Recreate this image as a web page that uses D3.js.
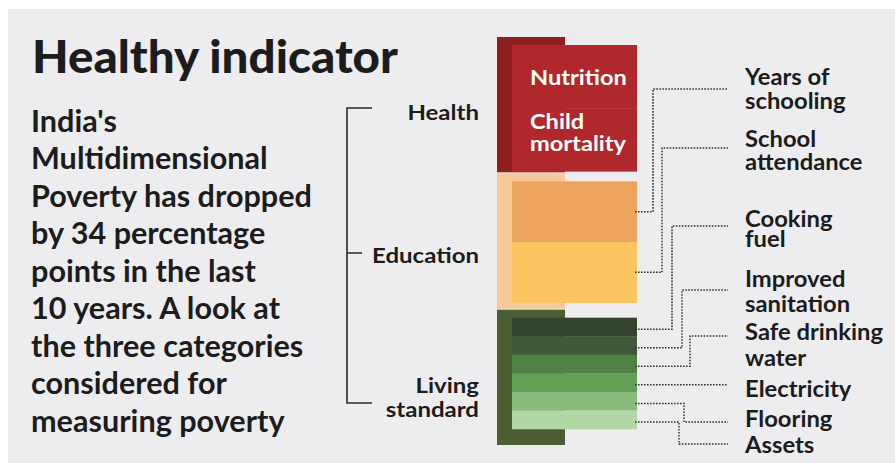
<!DOCTYPE html>
<html><head><meta charset="utf-8">
<script src="https://cdn.jsdelivr.net/npm/d3@7"></script>
<style>html,body{margin:0;padding:0;background:#fff;}svg{display:block;}</style>
</head><body>
<svg id="chart" width="895" height="463"></svg>
<script>
// ---------- data ----------
const title = "Healthy indicator";
const introLines = ["India's", "Multidimensional", "Poverty has dropped", "by 34 percentage",
  "points in the last", "10 years. A look at", "the three categories", "considered for", "measuring poverty"];
const categories = ["Health", "Education", "Living standard"];
const categoryLabels = [["Health"], ["Education"], ["Living", "standard"]];
const categoryWeights = [1, 1, 1];
const healthIndicators = ["Nutrition", "Child mortality"];
const educationIndicators = ["Years of schooling", "School attendance"];
const livingIndicators = ["Cooking fuel", "Improved sanitation", "Safe drinking water", "Electricity", "Flooring", "Assets"];
const indicatorLabelLines = [["Years of", "schooling"], ["School", "attendance"], ["Cooking", "fuel"],
  ["Improved", "sanitation"], ["Safe drinking", "water"], ["Electricity"], ["Flooring"], ["Assets"]];

// ---------- layout / style ----------
const W = 895, H = 463;
const svg = d3.select("#chart");
const font = "Lato, 'Open Sans', 'DejaVu Sans', sans-serif";
const ink = "#1c1c1c";
const backX0 = 497, backX1 = 565, frontX0 = 512, frontX1 = 637;
const backColor = {"Health": "#8e1e20", "Education": "#f7c899", "Living standard": "#4b5e34"};
const frontColor = {"Health": "#b0282b"};
const eduColors = ["#eda45e", "#fdc561"];
const livingColors = ["#34432f", "#40593a", "#4f8243", "#63a158", "#86bb7b", "#b3d7a5"];
const frontBottomInset = {"Health": 2, "Education": 7, "Living standard": 17};
const labelX = 745, connEndX = 728;
const connY = [89, 148, 226, 290, 336, null, 422, 444];
const elbowX = [653, 662, 672, 682, 690, null, 684, 679];
const labelBase = [85, 147, 227, 287, 340, 397, 427, 453];
const labelLineH = [24, 23, 20, 25, 26, 0, 0, 0];

// panel
svg.append("rect").attr("x", 8).attr("y", 9).attr("width", W - 8).attr("height", H - 9).attr("fill", "#ededef");

function hfit(node, target) {
  return target / node.getComputedTextLength();
}

// title
const tg = svg.append("g");
const tnode = tg.append("text").attr("x", 0).attr("y", 73).attr("font-family", font).attr("font-weight", 900)
  .attr("font-size", 46).attr("fill", ink).text(title).node();
tg.attr("transform", `translate(32,0) scale(${hfit(tnode, 366)},1)`);

// intro paragraph (one text, tspans per line)
const pg = svg.append("g");
const ptext = pg.append("text").attr("font-family", font).attr("font-weight", 700).attr("font-size", 31).attr("fill", ink);
const pspans = ptext.selectAll("tspan").data(introLines).join("tspan")
  .attr("x", 0).attr("y", (d, i) => 132 + i * 37.5).text(d => d);
pg.attr("transform", `translate(31,0) scale(${281 / pspans.nodes()[2].getComputedTextLength()},1)`);

// y scale for categories
const cum = d3.cumsum(categoryWeights);
const y = d3.scaleLinear().domain([0, d3.sum(categoryWeights)]).range([37, 446]);
const cats = categories.map((c, i) => ({name: c, y0: y(cum[i] - categoryWeights[i]), y1: y(cum[i])}));

// back rects
svg.append("g").selectAll("rect").data(cats).join("rect")
  .attr("x", backX0).attr("width", backX1 - backX0)
  .attr("y", d => d.y0).attr("height", d => d.y1 - d.y0 - 1)
  .attr("fill", d => backColor[d.name]);

// front rects per category subdivided by indicators
const indicatorGroups = [healthIndicators, educationIndicators, livingIndicators];
const segs = [];
cats.forEach((c, i) => {
  const top = c.y0 + 8, bot = c.y1 - frontBottomInset[c.name];
  const list = indicatorGroups[i];
  const b = d3.scaleBand().domain(list).range([top, bot]);
  list.forEach((ind, k) => {
    const fill = c.name === "Health" ? frontColor.Health : (c.name === "Education" ? eduColors[k] : livingColors[k]);
    segs.push({cat: c.name, name: ind, y0: b(ind), h: b.bandwidth(), fill, k});
  });
});
svg.append("g").selectAll("rect").data(segs).join("rect")
  .attr("x", frontX0).attr("width", frontX1 - frontX0)
  .attr("y", d => d.y0).attr("height", d => d.h + 0.3).attr("fill", d => d.fill);

// health indicator text inside the bar
const hg = svg.append("g");
const hNut = hg.append("text").attr("x", 0).attr("y", 85).attr("font-family", font).attr("font-weight", 700)
  .attr("font-size", 21).attr("fill", "#fff").text(healthIndicators[0]);
const hCm = hg.append("text").attr("font-family", font).attr("font-weight", 700)
  .attr("font-size", 21).attr("fill", "#fff");
healthIndicators[1].split(" ").forEach((w, j) => hCm.append("tspan").attr("x", 0).attr("y", 129 + j * 22).text(w));
hg.attr("transform", `translate(530,0) scale(${hfit(hNut.node(), 97)},1)`);

// category labels
const cg = svg.append("g");
const clabelBase = [[120], [263], [393, 417]];
let eduNode = null;
categoryLabels.forEach((lines, i) => {
  const t = cg.append("text").attr("text-anchor", "end")
    .attr("font-family", font).attr("font-weight", 700).attr("font-size", 21).attr("fill", ink);
  lines.forEach((s, j) => t.append("tspan").attr("x", 0).attr("y", clabelBase[i][j]).text(s));
  if (i === 1) eduNode = t.node();
});
cg.attr("transform", `translate(479,0) scale(${hfit(eduNode, 107)},1)`);

// bracket
const br = d3.path();
br.moveTo(372, 108); br.lineTo(347, 108); br.lineTo(347, 403); br.lineTo(372, 403);
br.moveTo(347, 253); br.lineTo(362, 253);
svg.append("path").attr("d", br.toString()).attr("fill", "none").attr("stroke", "#2a2a2a").attr("stroke-width", 1.6);

// connectors
const eduSegs = segs.filter(s => s.cat === "Education");
const livSegs = segs.filter(s => s.cat === "Living standard");
const anchorsY = eduSegs.map(s => s.y0 + s.h * 0.5).concat(livSegs.map(s => s.y0 + s.h * 0.62));
const conn = svg.append("g").attr("fill", "none").attr("stroke", "#333").attr("stroke-width", 1.5)
  .attr("stroke-dasharray", "1.6 1.4");
anchorsY.forEach((ay, i) => {
  const p = d3.path();
  p.moveTo(frontX1 - 2, ay);
  if (elbowX[i] == null) { p.lineTo(connEndX, ay); }
  else { p.lineTo(elbowX[i], ay); p.lineTo(elbowX[i], connY[i]); p.lineTo(connEndX, connY[i]); }
  conn.append("path").attr("d", p.toString());
});

// indicator labels (one text per indicator, tspans per line)
const lg = svg.append("g");
let safeSpan = null;
indicatorLabelLines.forEach((lines, i) => {
  const t = lg.append("text").attr("font-family", font).attr("font-weight", 700).attr("font-size", 22).attr("fill", ink);
  lines.forEach((s, j) => {
    const sp = t.append("tspan").attr("x", 0).attr("y", labelBase[i] + j * labelLineH[i]).text(s);
    if (i === 4 && j === 0) safeSpan = sp.node();
  });
});
lg.attr("transform", `translate(${labelX},0) scale(${138 / safeSpan.getComputedTextLength()},1)`);
</script>
</body></html>
